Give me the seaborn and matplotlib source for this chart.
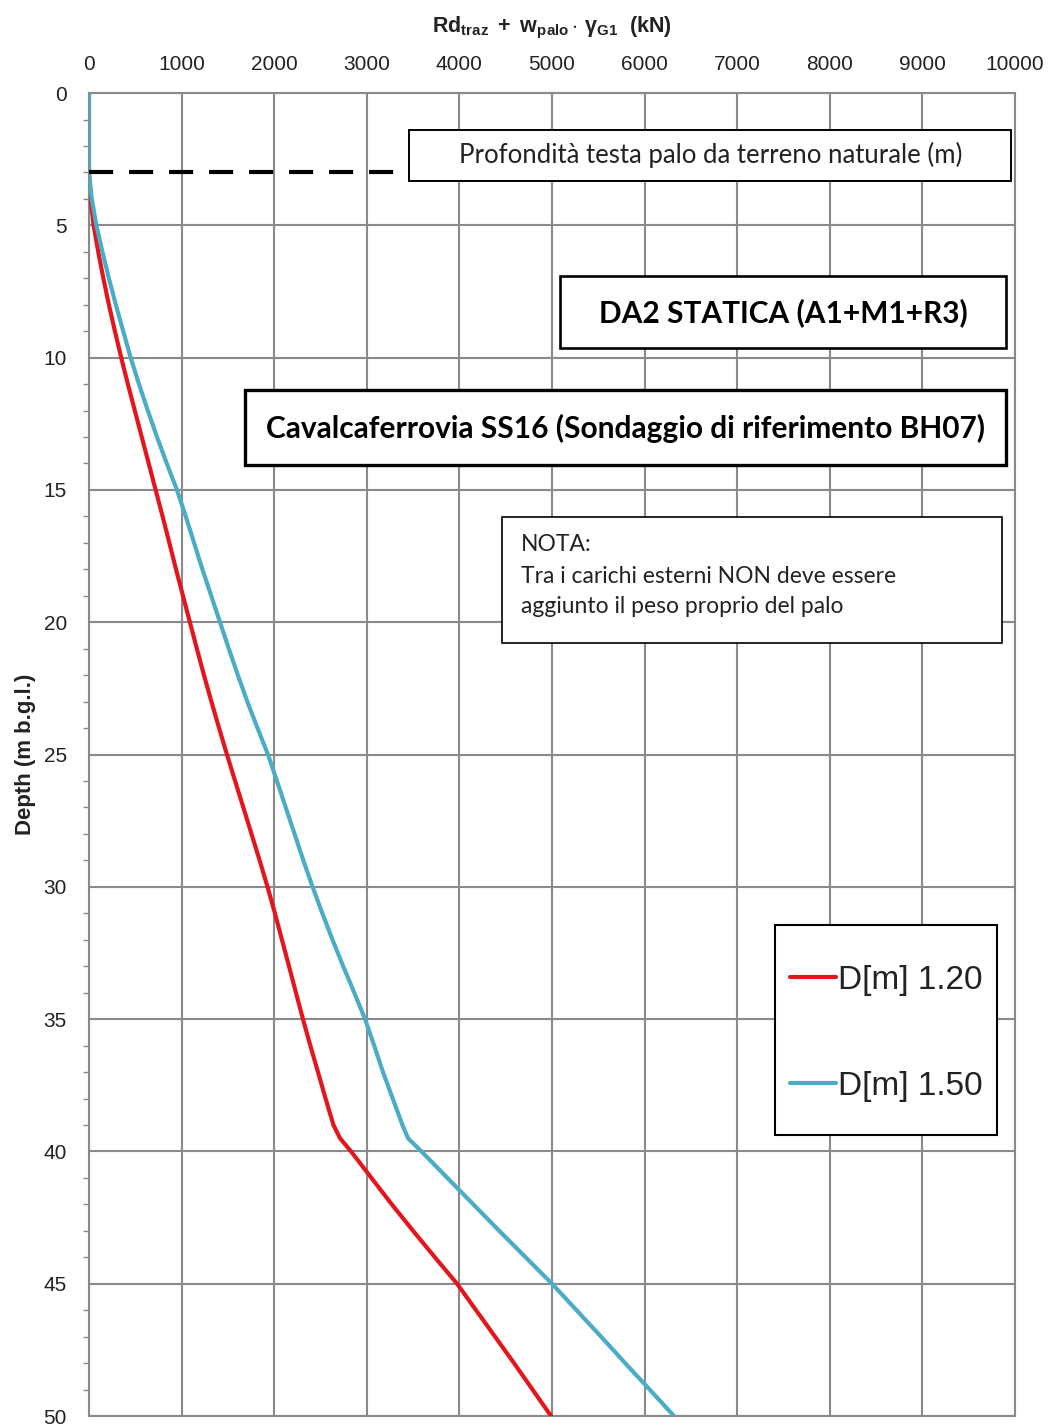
import numpy as np
import pandas as pd
import matplotlib
matplotlib.use("Agg")
import matplotlib.pyplot as plt
from matplotlib.patches import Rectangle
from matplotlib.ticker import MultipleLocator
import seaborn as sns

# ---------------- data ----------------
depth_120 = [0, 3, 4, 5, 6, 7, 8, 9, 10, 11, 12, 13, 14, 15, 16, 17, 18, 19, 20,
             21, 22, 23, 24, 25, 26, 27, 28, 29, 30, 31, 32, 33, 34, 35, 36, 37,
             38, 39, 39.5, 40, 41, 42, 43, 44, 45, 46, 47, 48, 49, 50]
rd_120 = [0, 0, 18, 50, 100, 155, 215, 280, 348, 420, 495, 570, 645, 720, 795,
          868, 940, 1015, 1090, 1165, 1242, 1322, 1405, 1490, 1578, 1667, 1755,
          1843, 1928, 2008, 2084, 2160, 2235, 2311, 2390, 2473, 2555, 2640, 2711,
          2830, 3050, 3270, 3500, 3735, 3975, 4180, 4385, 4590, 4790, 4990]

depth_150 = [0, 3, 4, 5, 6, 7, 8, 9, 10, 11, 12, 13, 14, 15, 16, 17, 18, 19, 20,
             21, 22, 23, 24, 25, 26, 27, 28, 29, 30, 31, 32, 33, 34, 35, 36, 37,
             38, 39, 39.5, 40, 41, 42, 43, 44, 45, 46, 47, 48, 49, 50]
rd_150 = [0, 0, 30, 80, 145, 215, 290, 370, 450, 540, 635, 735, 840, 950, 1045,
          1135, 1225, 1320, 1415, 1510, 1608, 1710, 1820, 1933, 2030, 2125, 2220,
          2315, 2415, 2520, 2630, 2745, 2865, 2981, 3080, 3175, 3280, 3385, 3445,
          3590, 3870, 4150, 4430, 4715, 5000, 5265, 5530, 5790, 6055, 6317]

series_labels = ["D[m] 1.20", "D[m] 1.50"]
series_colors = ["#E3161C", "#4BACC6"]
head_depth = 3.0
x_ticks = list(range(0, 10001, 1000))
y_ticks = list(range(0, 51, 5))

df = pd.concat([
    pd.DataFrame({"depth": depth_120, "rd": rd_120, "series": series_labels[0]}),
    pd.DataFrame({"depth": depth_150, "rd": rd_150, "series": series_labels[1]}),
], ignore_index=True)

# ---------------- style ----------------
sns.set_theme(style="white")
plt.rcParams["font.family"] = ["Liberation Sans", "DejaVu Sans"]
plt.rcParams["mathtext.fontset"] = "custom"
plt.rcParams["mathtext.rm"] = "Liberation Sans"
plt.rcParams["mathtext.it"] = "Liberation Sans:italic"
plt.rcParams["mathtext.bf"] = "Liberation Sans:bold"

GRID = "#8a8a8a"
BOXFONT = ["Lato", "DejaVu Sans"]

fig = plt.figure(figsize=(10.53, 14.25), dpi=100)
ax = fig.add_axes([0.0845, 0.0063, 0.8794, 0.9284])

sns.lineplot(data=df, x="rd", y="depth", hue="series", orient="y", sort=False,
             estimator=None, palette=series_colors, linewidth=3.0, ax=ax,
             legend=False, zorder=3)

ax.set_xlim(x_ticks[0], x_ticks[-1])
ax.set_ylim(y_ticks[-1], y_ticks[0])
ax.set_xticks(x_ticks)
ax.set_yticks(y_ticks)
ax.yaxis.set_minor_locator(MultipleLocator(1))
ax.xaxis.tick_top()
ax.xaxis.set_label_position("top")
ax.grid(True, which="major", color=GRID, linewidth=1.5, zorder=1)
for s in ax.spines.values():
    s.set_color(GRID)
    s.set_linewidth(1.5)

ax.tick_params(axis="x", which="major", length=0, pad=14, labelsize=15,
               colors="#222222", labelcolor="#222222")
ax.tick_params(axis="y", which="major", length=4, width=1.2, color=GRID,
               pad=12, labelsize=15, labelcolor="#222222")
ax.tick_params(axis="y", which="minor", length=4, width=1.0, color=GRID,
               left=True)

ax.set_xlabel(r"$\mathbf{Rd_{traz}\ +\ w_{palo}}\cdot\,\mathbf{\gamma_{G1}}$  (kN)",
              fontsize=15.5, fontweight="bold", labelpad=16, color="#222222")
ax.set_ylabel("Depth (m b.g.l.)", fontsize=16, fontweight="bold",
              labelpad=5, color="#222222")

# head depth dashed reference line (ends at the note box)
box1 = (0.3456, 0.9335, 0.6501, 0.0385)
ax.axhline(head_depth, xmin=0, xmax=box1[0], color="black", linewidth=3,
           dashes=(5.8, 3.8), zorder=4)


def box(rect, lw, zorder=5):
    r = Rectangle((rect[0], rect[1]), rect[2], rect[3], transform=ax.transAxes,
                  facecolor="white", edgecolor="black", linewidth=lw,
                  zorder=zorder)
    ax.add_patch(r)


box(box1, 1.4)
ax.text(0.6717, 0.9531, "Profondità testa palo da terreno naturale (m)",
        transform=ax.transAxes, ha="center", va="center", fontsize=18.5,
        family=BOXFONT, color="#222222", zorder=6)

box((0.5086, 0.8073, 0.4817, 0.0544), 1.9)
ax.text(0.7495, 0.8337, "DA2 STATICA (A1+M1+R3)", transform=ax.transAxes,
        ha="center", va="center", fontsize=21.5, fontweight="bold",
        family=BOXFONT, color="black", zorder=6)

box((0.1685, 0.7188, 0.8218, 0.0567), 2.4)
ax.text(0.5799, 0.7468, "Cavalcaferrovia SS16 (Sondaggio di riferimento BH07)",
        transform=ax.transAxes, ha="center", va="center", fontsize=21.5,
        fontweight="bold", family=BOXFONT, color="black", zorder=6)

box((0.4460, 0.5843, 0.5400, 0.0952), 1.2)
for txt, yy in zip(["NOTA:", "Tra i carichi esterni NON deve essere",
                    "aggiunto il peso proprio del palo"],
                   [0.6584, 0.6349, 0.6122]):
    ax.text(0.4665, yy, txt, transform=ax.transAxes, ha="left", va="center",
            fontsize=16.5, family=BOXFONT, color="#222222", zorder=6)

# legend with custom frame
box((0.7408, 0.2124, 0.2398, 0.1587), 1.5, zorder=5)
handles = [plt.Line2D([], [], color=c, linewidth=3.0) for c in series_colors]
leg = ax.legend(handles, series_labels, loc="center",
                bbox_to_anchor=(0.8607, 0.2892), frameon=False, fontsize=24,
                handlelength=1.4, handletextpad=0.05, labelspacing=2.25,
                borderpad=0.0)
leg.set_zorder(7)
for t in leg.get_texts():
    t.set_color("#222222")

fig.savefig("out.png", dpi=100)
